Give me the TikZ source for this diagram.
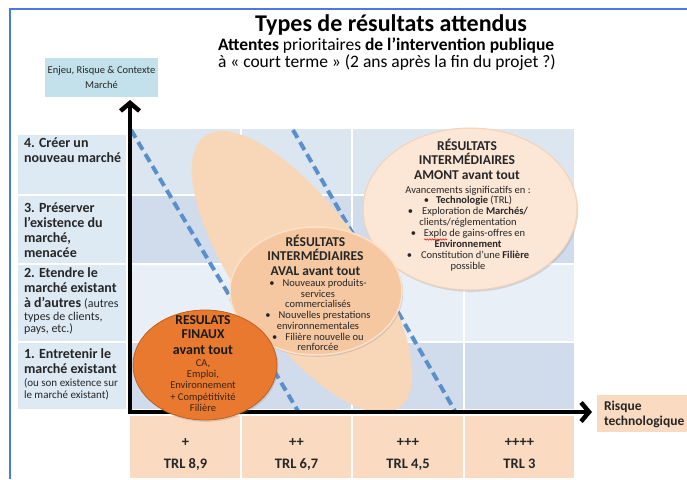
\documentclass[tikz,border=0pt]{standalone}
\usepackage{fontspec}
\setmainfont{Carlito}
\usetikzlibrary{arrows.meta,shapes.geometric,shadows,decorations.pathmorphing}

\definecolor{frameblue}{HTML}{4A78E6}
\definecolor{inkgray}{HTML}{262626}
\definecolor{axisbox}{HTML}{C2E1EA}
\definecolor{labelblue}{HTML}{DDEAF4}
\definecolor{bandlight}{HTML}{DCE6F1}
\definecolor{banddark}{HTML}{D0DBEB}
\definecolor{bandpale}{HTML}{E9EFF7}
\definecolor{trlpeach}{HTML}{FADAC1}
\definecolor{dashblue}{HTML}{5B8FCB}
\definecolor{lobepeach}{HTML}{F8D6B8}
\definecolor{amontfill}{HTML}{FCE6D5}
\definecolor{amontedge}{HTML}{F3D2B6}
\definecolor{avalfill}{HTML}{F6C8A1}
\definecolor{avaledge}{HTML}{FBE1CB}
\definecolor{finfill}{HTML}{E8792F}
\definecolor{finedge}{HTML}{C0601F}
\definecolor{fintext}{HTML}{3B2412}

\newcommand\fs[2]{\fontsize{#1}{#2}\selectfont}

\begin{document}
\begin{tikzpicture}[x=1pt,y=-1pt,
  every node/.style={inner sep=0pt,outer sep=0pt,text=inkgray},
  ctr/.style={anchor=base},
  lft/.style={anchor=base west},
  rowbold/.style={lft,font=\bfseries\fs{14}{15}},
  rowsmall/.style={lft,font=\fs{12}{13}},
  hdr/.style={ctr,font=\bfseries\fs{13.5}{15}},
  gridcell/.style={draw=white,line width=1.2pt},
  tipline/.style={dashblue,line width=4pt,dash pattern=on 9pt off 5pt},
  axisline/.style={line width=4.5pt,
    {Straight Barb[length=8pt,width=19pt]}-{Straight Barb[length=8pt,width=19pt]}},
  softshadow/.style={drop shadow={shadow xshift=1.2pt,shadow yshift=-1.8pt,opacity=0.25}}
]
\useasboundingbox (0,0) rectangle (687,479);
\fill[white] (0,0) rectangle (687,479);

% outer frame
\draw[frameblue,line width=2pt] (9.5,479) -- (9.5,8.5) -- (687,8.5);

% titles
\node[ctr,font=\bfseries\fs{24}{27},text=black] (title) at (391,31) {Types de résultats attendus};
\node[lft,font=\fs{17.5}{19},text=black] (sub1) at (218,50.5)
  {\textbf{Attentes} prioritaires \textbf{de l’intervention publique}};
\node[lft,font=\fs{17.5}{19},text=black] (sub2) at (218,67.5)
  {à « court terme » (2 ans après la fin du projet ?)};

% vertical axis caption
\node[fill=axisbox,minimum width=113pt,minimum height=39pt,anchor=north west] (ybox) at (45,58) {};
\node[ctr,font=\fs{10.5}{12}] (ycap1) at (101.5,73.5) {Enjeu, Risque \& Contexte};
\node[ctr,font=\fs{10.5}{12}] (ycap2) at (101.5,88.5) {Marché};

% row label column
\foreach \ya/\yb in {134/195,195/264,264/342,342/410}
  \fill[labelblue,gridcell] (17,\ya) rectangle (127,\yb);

% banded grid
\foreach \ya/\yb/\c in {128/195/bandlight,195/264/banddark,264/342/bandpale,342/410/banddark}
  \foreach \xa/\xb in {130/241,241/352,352/464,464/575}
    \fill[\c,gridcell] (\xa,\ya) rectangle (\xb,\yb);

% TRL row
\foreach \xa/\xb in {129/241,241/352,352/464,464/575}
  \fill[trlpeach,gridcell] (\xa,415) rectangle (\xb,479);

% horizontal axis caption
\node[fill=trlpeach,minimum width=90pt,minimum height=37pt,anchor=north west] (xbox) at (597,395) {};
\node[lft,font=\bfseries\fs{13.5}{15}] (xcap1) at (604,410.5) {Risque};
\node[lft,font=\bfseries\fs{13.5}{15}] (xcap2) at (604,425.5) {technologique};

% TRL labels
\foreach \cx/\p/\t [count=\k] in {185.5/+/{TRL 8,9},296.5/++/{TRL 6,7},408/+++/{TRL 4,5},519.5/++++/{TRL 3}}{
  \node[ctr,font=\bfseries\fs{14.5}{16}] (plus\k) at (\cx,446.5) {\p};
  \node[ctr,font=\bfseries\fs{14.5}{16}] (trl\k) at (\cx,468) {\t};
}

% row labels
\foreach \t [count=\k from 0] in {4. Créer un,nouveau marché}
  \node[rowbold] (rowfour\k) at (24,{147+15*\k}) {\t};
\foreach \t [count=\k from 0] in {3. Préserver,l’existence du,{marché,},menacée}
  \node[rowbold] (rowthree\k) at (24,{212+15*\k}) {\t};
\foreach \t [count=\k from 0] in {2. Etendre le,marché existant}
  \node[rowbold] (rowtwo\k) at (24,{277+15*\k}) {\t};
\node[rowbold] (rowtwo2) at (24,307) {à d’autres {\mdseries\fs{12}{13}(autres}};
\node[rowsmall] (rowtwo3) at (24,320) {types de clients,};
\node[rowsmall] (rowtwo4) at (24,332.5) {pays, etc.)};
\foreach \t [count=\k from 0] in {1. Entretenir le,marché existant}
  \node[rowbold] (rowone\k) at (24,{358+15*\k}) {\t};
\node[lft,font=\fs{11}{12}] (rowone2) at (24,386.5) {(ou son existence sur};
\node[lft,font=\fs{11}{12}] (rowone3) at (24,398.5) {le marché existant)};

% risk frontiers
\coordinate (fa) at (131,130);
\coordinate (fb) at (298,411);
\coordinate (ga) at (293,130);
\coordinate (gb) at (455,411);
\draw[tipline] (fa) -- (fb);
\draw[tipline] (ga) -- (gb);

% elongated background lobe
\node[ellipse,minimum width=334pt,minimum height=128pt,rotate=-54.4,fill=lobepeach] (lobe) at (302,272) {};

% upstream results
\node[ellipse,minimum width=214pt,minimum height=162pt,fill=amontfill,draw=amontedge,line width=1pt,softshadow] (amont) at (470,209) {};
% downstream results
\node[ellipse,minimum width=172pt,minimum height=128pt,fill=avalfill,draw=avaledge,line width=1.5pt,softshadow] (aval) at (316,291) {};

% axes
\coordinate (ytip) at (130,100);
\coordinate (origin) at (130,412);
\coordinate (xtip) at (592,412);
\draw[axisline] (ytip) -- (origin) -- (xtip);

% final results
\node[ellipse,minimum width=144pt,minimum height=110pt,fill=finfill,draw=finedge,line width=0.8pt,softshadow] (finaux) at (205,365) {};

% upstream text
\foreach \t [count=\k from 0] in {RÉSULTATS,INTERMÉDIAIRES,AMONT avant tout}
  \node[hdr] (amonthd\k) at (467,{150+14.5*\k}) {\t};
\foreach \t [count=\k from 0] in {
  Avancements significatifs en :,
  \textbullet\hspace{7pt}\textbf{Technologie} (TRL),
  \textbullet\hspace{9pt}Exploration de \textbf{Marchés/},
  clients/réglementation,
  \textbullet\hspace{8pt}Explo de gains-offres en,
  \textbf{Environnement},
  \textbullet\hspace{9pt}Constitution d’une \textbf{Filière},
  possible}
  \node[ctr,font=\fs{10.5}{11}] (amontln\k) at (468,{193+10.9*\k}) {\t};
\draw[red,line width=0.5pt,decorate,decoration={snake,amplitude=0.7pt,segment length=2.6pt}]
  (424,239.5) -- (447,239.5);

% downstream text
\foreach \t [count=\k from 0] in {RÉSULTATS,INTERMÉDIAIRES,AVAL avant tout}
  \node[hdr] (avalhd\k) at (315.5,{246+14.8*\k}) {\t};
\foreach \t [count=\k from 0] in {
  \textbullet\hspace{8pt}Nouveaux produits-,
  services,
  commercialisés,
  \textbullet\hspace{8pt}Nouvelles prestations,
  environnementales,
  \textbullet\hspace{8pt}Filière nouvelle ou,
  renforcée}
  \node[ctr,font=\fs{10.5}{10.7}] (avalln\k) at (318,{286.5+10.7*\k}) {\t};

% final text
\node[hdr,text=black!90] (finhd0) at (203,324.5) {RESULATS};
\node[hdr,text=black!90] (finhd1) at (203,338) {FINAUX};
\node[ctr,font=\bfseries\fs{14}{16},text=black!90] (finhd2) at (203,354.5) {avant tout};
\foreach \t [count=\k from 0] in {{CA,},{Emploi,},Environnement,+ Compétitivité,Filière}
  \node[ctr,font=\fs{10.5}{11.5},text=fintext] (finln\k) at (203,{366+11.4*\k}) {\t};
\end{tikzpicture}
\end{document}
